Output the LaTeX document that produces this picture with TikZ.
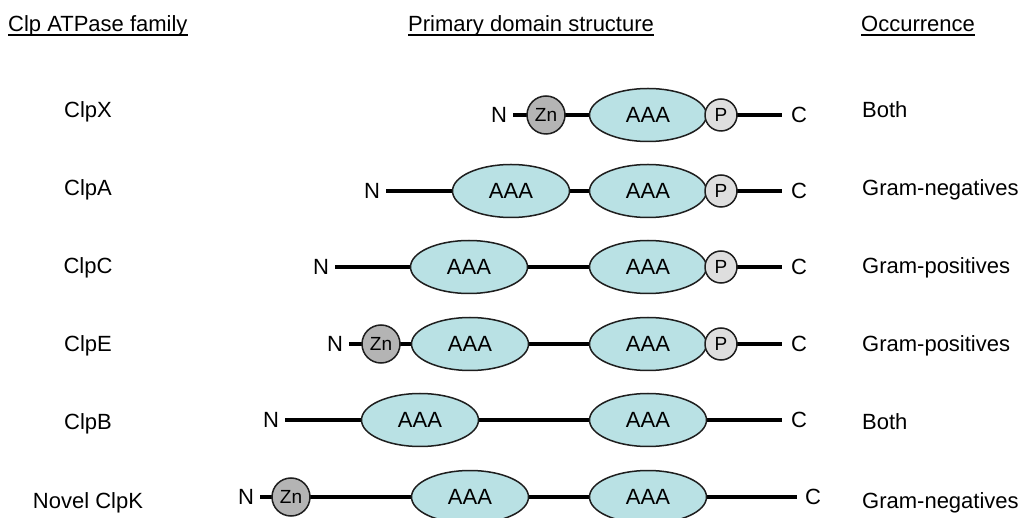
\documentclass[tikz,border=0pt]{standalone}
\usepackage{fontspec}
\setmainfont{Liberation Sans}
\usetikzlibrary{shapes.geometric}
\definecolor{aaacol}{RGB}{185,225,228}
\definecolor{zncol}{RGB}{180,180,180}
\definecolor{pcol}{RGB}{222,222,222}
\definecolor{edgecol}{RGB}{30,30,30}
\tikzset{
  bigfont/.style={font=\fontsize{22}{26}\selectfont},
  aaa/.style={ellipse, draw=edgecol, line width=1.5pt, fill=aaacol, minimum width=117pt, minimum height=53pt, inner sep=0pt, bigfont},
  zn/.style={circle, draw=edgecol, line width=1.5pt, fill=zncol, minimum size=38pt, inner sep=0pt, font=\fontsize{19}{22}\selectfont},
  pdom/.style={circle, draw=edgecol, line width=1.5pt, fill=pcol, minimum size=32pt, inner sep=0pt, font=\fontsize{19}{22}\selectfont},
  term/.style={inner xsep=6pt, inner ysep=0pt, bigfont},
  cterm/.style={inner sep=0pt, bigfont},
  chainline/.style={line width=3.4pt, draw=black},
  lab/.style={anchor=base, inner sep=0pt, bigfont},
  occ/.style={anchor=base west, inner sep=0pt, bigfont},
  head/.style={anchor=base west, inner sep=0pt, bigfont},
  uline/.style={line width=2pt},
}
\begin{document}
\begin{tikzpicture}[x=1pt, y=-1pt]
\useasboundingbox (0,0) rectangle (1023,518);
% headers
\node[head] (h1) at (8,32) {Clp ATPase family};
\node[head] (h2) at (408,32) {Primary domain structure};
\node[head] (h3) at (861,32) {Occurrence};
\draw[uline] ([yshift=-3.5pt]h1.base west) -- ([yshift=-3.5pt]h1.base east);
\draw[uline] ([yshift=-3.5pt]h2.base west) -- ([yshift=-3.5pt]h2.base east);
\draw[uline] ([yshift=-3.5pt]h3.base west) -- ([yshift=-3.5pt]h3.base east);
% family labels
\node[lab] (l1) at (88,118) {ClpX};
\node[lab] (l2) at (88,196) {ClpA};
\node[lab] (l3) at (88,274) {ClpC};
\node[lab] (l4) at (88,352) {ClpE};
\node[lab] (l5) at (88,430) {ClpB};
\node[lab] (l6) at (88,508) {Novel ClpK};
% occurrence
\node[occ] (o1) at (862,118) {Both};
\node[occ] (o2) at (862,196) {Gram-negatives};
\node[occ] (o3) at (862,274) {Gram-positives};
\node[occ] (o4) at (862,352) {Gram-positives};
\node[occ] (o5) at (862,430) {Both};
\node[occ] (o6) at (862,508) {Gram-negatives};

% ClpX
\node[term] (xN) at (499,115) {N};
\coordinate (xE) at (782,115);
\node[cterm] (xC) at (799,115) {C};
\draw[chainline] (xN) -- (xE);
\node[zn] (xZn) at (546,115) {Zn};
\node[aaa] (xA1) at (648,115) {AAA};
\node[pdom] (xP) at (721,115) {P};

% ClpA
\node[term] (aN) at (372,191) {N};
\coordinate (aE) at (782,191);
\node[cterm] (aC) at (799,191) {C};
\draw[chainline] (aN) -- (aE);
\node[aaa] (aA1) at (511,191) {AAA};
\node[aaa] (aA2) at (648,191) {AAA};
\node[pdom] (aP) at (721,191) {P};

% ClpC
\node[term] (cN) at (321,267) {N};
\coordinate (cE) at (782,267);
\node[cterm] (cC) at (799,267) {C};
\draw[chainline] (cN) -- (cE);
\node[aaa] (cA1) at (469,267) {AAA};
\node[aaa] (cA2) at (648,267) {AAA};
\node[pdom] (cP) at (721,267) {P};

% ClpE
\node[term] (eN) at (335,344) {N};
\coordinate (eE) at (782,344);
\node[cterm] (eC) at (799,344) {C};
\draw[chainline] (eN) -- (eE);
\node[zn] (eZn) at (381,344) {Zn};
\node[aaa] (eA1) at (470,344) {AAA};
\node[aaa] (eA2) at (648,344) {AAA};
\node[pdom] (eP) at (721,344) {P};

% ClpB
\node[term] (bN) at (271,420) {N};
\coordinate (bE) at (782,420);
\node[cterm] (bC) at (799,420) {C};
\draw[chainline] (bN) -- (bE);
\node[aaa] (bA1) at (420,420) {AAA};
\node[aaa] (bA2) at (648,420) {AAA};

% ClpK
\node[term] (kN) at (246,497) {N};
\coordinate (kE) at (797,497);
\node[cterm] (kC) at (813,497) {C};
\draw[chainline] (kN) -- (kE);
\node[zn] (kZn) at (291,497) {Zn};
\node[aaa] (kA1) at (470,497) {AAA};
\node[aaa] (kA2) at (648,497) {AAA};
\end{tikzpicture}
\end{document}
